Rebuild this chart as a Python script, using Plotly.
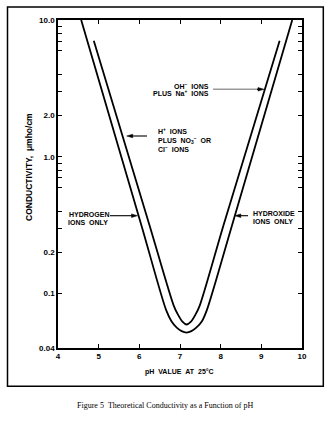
import plotly.graph_objects as go

# ---- data ----
ph_outer = [4.57, 6.05, 6.66, 6.79, 6.92, 7.04, 7.16, 7.28, 7.40, 7.54, 7.66, 8.28, 9.76]
cond_outer = [10.0, 0.316, 0.0756, 0.0628, 0.0563, 0.0531, 0.0519, 0.0531, 0.0563, 0.0628, 0.0756, 0.316, 10.0]

ph_inner = [4.88, 6.25, 6.85, 6.95, 7.06, 7.16, 7.27, 7.38, 7.48, 8.07, 9.45]
cond_inner = [7.06, 0.316, 0.0809, 0.0701, 0.0623, 0.0594, 0.0623, 0.0701, 0.0809, 0.316, 7.06]

x_ticks = [4, 5, 6, 7, 8, 9, 10]
x_tick_labels = ["4", "5", "6", "7", "8", "9", "10"]
y_ticks = [0.04, 0.1, 0.2, 1.0, 2.0, 10.0]
y_tick_labels = ["0.04", "0.1", "0.2", "1.0", "2.0", "10.0"]
y_minor_ticks = [0.3, 0.4, 0.6, 0.7, 0.8, 0.9, 3, 4, 6, 7, 8, 9]

# ---- layout geometry (pixels) ----
W, H = 331, 421
ML, MR, MT, MB = 58, 29, 20, 73
PW, PH = W - ML - MR, H - MT - MB


def px(x):
    return (x - ML) / PW


def py(y):
    return (H - MB - y) / PH


SANS = "Liberation Sans"
SERIF = "Liberation Serif"

fig = go.Figure()
for xs, ys in [(ph_outer, cond_outer), (ph_inner, cond_inner)]:
    fig.add_trace(go.Scatter(x=xs, y=ys, mode="lines",
                             line=dict(color="black", width=1.8, shape="spline", smoothing=0.8),
                             showlegend=False, hoverinfo="skip"))

axis_common = dict(showgrid=False, zeroline=False, showline=True, linecolor="black",
                   linewidth=1.6, ticks="inside", ticklen=4, tickwidth=1.4,
                   tickcolor="black", mirror="ticks",
                   tickfont=dict(family=SANS, size=8, color="black", weight="bold"))

fig.update_xaxes(range=[4, 10], tickmode="array", tickvals=x_ticks, ticktext=x_tick_labels,
                 **axis_common)
fig.update_yaxes(type="log", range=[-1.39794, 1.0], tickmode="array", tickvals=y_ticks,
                 ticktext=y_tick_labels,
                 minor=dict(tickmode="array", tickvals=y_minor_ticks, ticks="inside",
                            ticklen=4, tickwidth=1.4, tickcolor="black", showgrid=False),
                 **axis_common)

ann = []
shapes = []


def text(x, y, s, anchor="left", size=7):
    ann.append(dict(xref="paper", yref="paper", x=px(x), y=py(y), text=s, showarrow=False,
                    xanchor=anchor, yanchor="middle",
                    font=dict(family=SANS, size=size, color="black", weight="bold")))


def arrow(hx, hy, tx, ty, color="black", head=6.0, half=1.8):
    d = 1 if tx > hx else -1
    shapes.append(dict(type="line", xref="paper", yref="paper",
                       x0=px(tx), x1=px(hx + d * head * 0.8), y0=py(ty), y1=py(hy),
                       line=dict(color=color, width=1.1)))
    bx = hx + d * head
    path = (f"M {px(hx)} {py(hy)} L {px(bx)} {py(hy - half)} "
            f"L {px(bx)} {py(hy + half)} Z")
    shapes.append(dict(type="path", xref="paper", yref="paper", path=path,
                       fillcolor="black", line=dict(color="black", width=0.5)))


# OH- plus Na+ label
text(211, 86, "OH<sup>−</sup>\u00a0\u00a0IONS", anchor="right")
text(211, 93, "PLUS\u00a0\u00a0Na<sup>+</sup>\u00a0\u00a0IONS", anchor="right")
shapes.append(dict(type="line", xref="paper", yref="paper", x0=px(213), x1=px(258),
                   y0=py(89.3), y1=py(89.3), line=dict(color="#9a9a9a", width=1.6)))
arrow(264, 89.3, 257, 89.3)

# H+ plus NO3- or Cl-
text(156, 131, "H<sup>+</sup>\u00a0\u00a0IONS")
text(156, 140, "PLUS\u00a0\u00a0NO<sub>3</sub><sup>−</sup>\u00a0\u00a0OR")
text(156, 149, "Cl<sup>−</sup>\u00a0\u00a0IONS")
arrow(126.7, 136, 147, 136)

# Hydrogen ions only
text(67, 214.3, "HYDROGEN")
text(66, 222.3, "IONS\u00a0\u00a0ONLY")
arrow(137.5, 215.7, 110, 215.7)

# Hydroxide ions only
text(251, 213.5, "HYDROXIDE")
text(251, 221.5, "IONS\u00a0\u00a0ONLY")
arrow(234.8, 215.7, 248, 215.7)

# axis titles
ann.append(dict(xref="paper", yref="paper", x=px(29), y=py(167), text="CONDUCTIVITY,\u00a0\u00a0μmho/cm",
                showarrow=False, textangle=-90, xanchor="center", yanchor="middle",
                font=dict(family=SANS, size=8.5, color="black", weight="bold")))
ann.append(dict(xref="paper", yref="paper", x=px(179.5), y=py(372),
                text="pH\u00a0\u00a0VALUE\u00a0\u00a0AT\u00a0\u00a025°C",
                showarrow=False, xanchor="center", yanchor="middle",
                font=dict(family=SANS, size=7, color="black", weight="bold")))
# caption
ann.append(dict(xref="paper", yref="paper", x=px(165), y=py(405.5),
                text="Figure 5\u00a0\u00a0Theoretical Conductivity as a Function of pH",
                showarrow=False, xanchor="center", yanchor="middle",
                font=dict(family=SERIF, size=8, color="#000000")))

shapes.insert(0, dict(type="rect", xref="paper", yref="paper", x0=px(7.5), x1=px(323.3),
                      y0=py(386.3), y1=py(7), line=dict(color="black", width=1.5)))

fig.update_layout(width=W, height=H, margin=dict(l=ML, r=MR, t=MT, b=MB, pad=0),
                  plot_bgcolor="white", paper_bgcolor="white",
                  annotations=ann, shapes=shapes, showlegend=False)

fig.write_html("out.html")
